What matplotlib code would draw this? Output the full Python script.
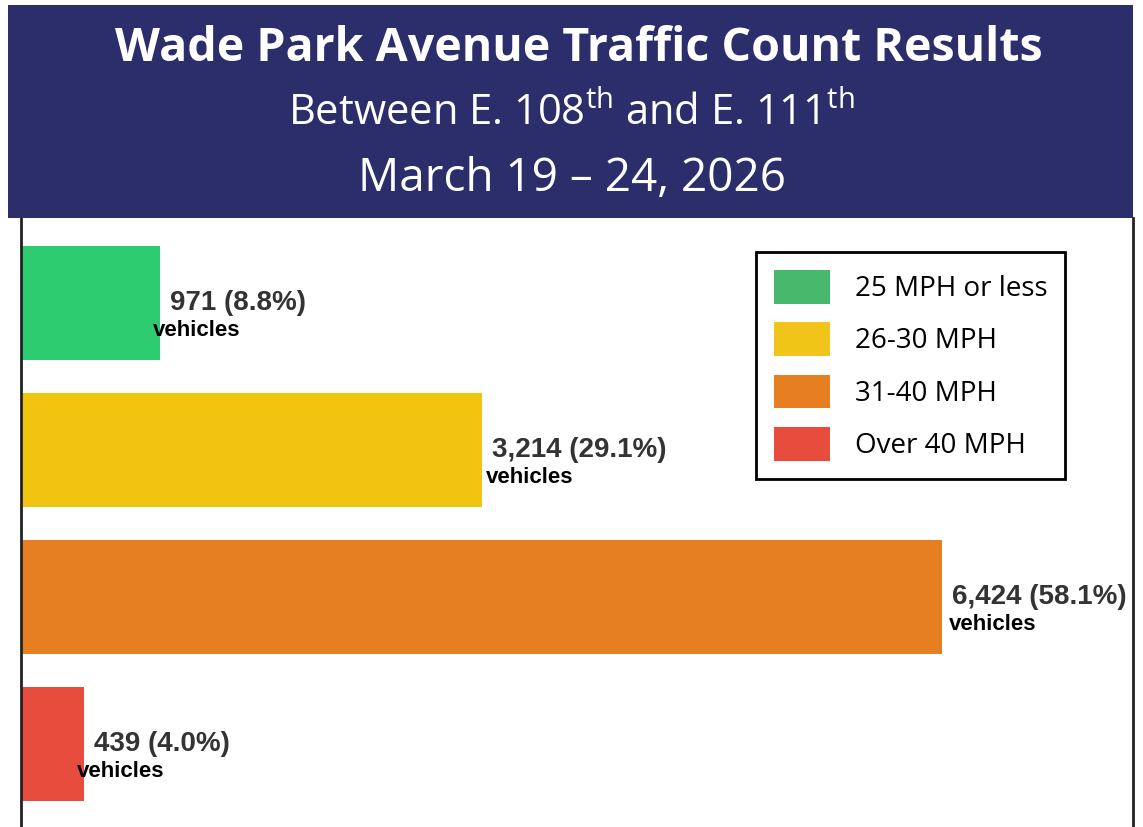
import matplotlib
matplotlib.use('Agg')
import matplotlib.pyplot as plt
from matplotlib.patches import Patch, Rectangle

plt.rcParams['mathtext.fontset'] = 'custom'
plt.rcParams['mathtext.rm'] = 'Open Sans'

# data
speed_bins = ['25 MPH or less', '26-30 MPH', '31-40 MPH', 'Over 40 MPH']
vehicles = [971, 3214, 6424, 439]
shares = [8.8, 29.1, 58.1, 4.0]

bar_colors = ['#2ecc71', '#f1c40f', '#e67e22', '#e74c3c']
legend_colors = ['#48b96c', '#f1c419', '#e67e22', '#e74c3c']
NAVY = '#2b2e6b'

fig = plt.figure(figsize=(11.43, 8.27), dpi=100)

# header band
fig.patches.append(Rectangle((0.007, 0.7364), 0.9843, 0.2576, transform=fig.transFigure,
                             facecolor=NAVY, edgecolor='none', zorder=0))
fig.text(0.506, 0.941, 'Wade Park Avenue Traffic Count Results', ha='center', va='center',
         color='white', fontsize=33.5, fontweight='bold', family='Open Sans')
fig.text(0.50, 0.862, r'Between E. 108$^{\mathrm{th}}$ and E. 111$^{\mathrm{th}}$', ha='center',
         va='center', color='white', fontsize=30, family='Open Sans')
fig.text(0.50, 0.784, 'March 19 \u2013 24, 2026', ha='center', va='center',
         color='white', fontsize=33, family='Open Sans')

ax = fig.add_axes([21/1143, 0, (1133-21)/1143, 1-218/827])
y = range(len(vehicles))
ax.barh(y, vehicles, height=0.776, color=bar_colors)
ax.set_xlim(0, 7755)
ax.set_ylim(3.565, -0.578)
ax.set_xticks([]); ax.set_yticks([])
for s in ['top', 'bottom']:
    ax.spines[s].set_visible(False)
for s in ['left', 'right']:
    ax.spines[s].set_linewidth(2)
    ax.spines[s].set_color('#222222')

# value labels (small pixel nudges for the "vehicles" line)
veh_dx = [-7, 4, 7, -7]
for i, (v, p) in enumerate(zip(vehicles, shares)):
    ax.annotate(f'{v:,} ({p:.1f}%)', (v, i), xytext=(10, 0), textcoords='offset pixels',
                ha='left', va='center', fontsize=20, fontweight='bold',
                color='#333333', family='Liberation Sans')
    ax.annotate('vehicles', (v, i), xytext=(veh_dx[i], -28), textcoords='offset pixels',
                ha='left', va='center', fontsize=16, fontweight='bold',
                color='black', family='Liberation Sans')

handles = [Patch(facecolor=c, edgecolor='none', label=l) for c, l in zip(legend_colors, speed_bins)]
leg = ax.legend(handles=handles, loc='upper left', bbox_to_anchor=(756/1143, 1-252/827),
                bbox_transform=fig.transFigure, prop={'family': 'Open Sans', 'size': 20},
                handlelength=2.0, handleheight=1.5, labelspacing=0.66, handletextpad=0.9,
                borderpad=0.65, borderaxespad=0, fancybox=False, framealpha=1)
leg.get_frame().set_edgecolor('black')
leg.get_frame().set_linewidth(2)

fig.savefig('out.png', dpi=100)
